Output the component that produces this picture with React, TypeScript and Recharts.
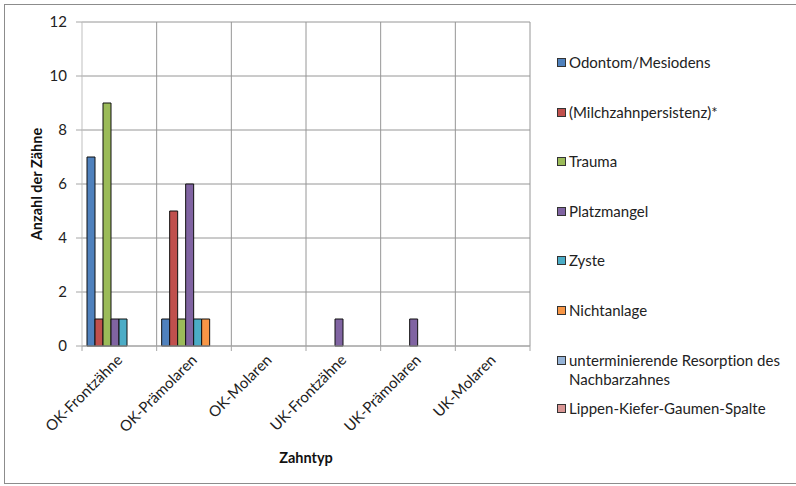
import React from 'react';
import { BarChart, Bar, XAxis, YAxis, CartesianGrid, Label } from 'recharts';

const categories = ['OK-Frontzähne', 'OK-Prämolaren', 'OK-Molaren', 'UK-Frontzähne', 'UK-Prämolaren', 'UK-Molaren'];
const odontom = [7, 1, 0, 0, 0, 0];
const milchzahn = [1, 5, 0, 0, 0, 0];
const trauma = [9, 1, 0, 0, 0, 0];
const platzmangel = [1, 6, 0, 1, 1, 0];
const zyste = [1, 1, 0, 0, 0, 0];
const nichtanlage = [0, 1, 0, 0, 0, 0];
const resorption = [0, 0, 0, 0, 0, 0];
const lkgSpalte = [0, 0, 0, 0, 0, 0];
const yTicks = [0, 2, 4, 6, 8, 10, 12];

const seriesNames = [
  'Odontom/Mesiodens',
  '(Milchzahnpersistenz)*',
  'Trauma',
  'Platzmangel',
  'Zyste',
  'Nichtanlage',
  'unterminierende Resorption des Nachbarzahnes',
  'Lippen-Kiefer-Gaumen-Spalte',
];
const seriesValues = [odontom, milchzahn, trauma, platzmangel, zyste, nichtanlage, resorption, lkgSpalte];
const seriesColors = ['#4F81BD', '#C0504D', '#9BBB59', '#8064A2', '#4BACC6', '#F79646', '#95B3D7', '#D99694'];
const legendTops = [53, 103, 152, 202, 251, 301, 351, 399];

const data = categories.map((c, i) => {
  const row: any = { name: c };
  seriesValues.forEach((vals, s) => {
    row['s' + s] = vals[i];
  });
  return row;
});

const FONT = 'Lato, "Open Sans", sans-serif';
const NOLIG: any = { fontVariantLigatures: 'none' };

const XTick = (props: any) => {
  const { x, y, payload, index, visibleTicksCount } = props;
  const off = payload.offset || 0;
  const left = x - off;
  const ax = x + 4;
  const ay = y + 15;
  return (
    <g>
      <line x1={left} y1={y} x2={left} y2={y + 5} stroke="#a6a6a6" />
      {index === visibleTicksCount - 1 && (
        <line x1={x + off} y1={y} x2={x + off} y2={y + 5} stroke="#a6a6a6" />
      )}
      <text
        x={ax}
        y={ay}
        textAnchor="end"
        fontSize={15}
        fontFamily={FONT}
        fill="#222"
        style={NOLIG}
        transform={`rotate(-45, ${ax}, ${ay})`}
      >
        {payload.value}
      </text>
    </g>
  );
};

export default function App() {
  return (
    <div style={{ position: 'absolute', left: 0, top: 0, width: 796, height: 486, background: '#fff', overflow: 'hidden', fontFamily: FONT, fontVariantLigatures: 'none' }}>
      <div style={{ position: 'absolute', left: 4, top: 4, width: 820, height: 480, border: '1px solid #8c8c8c', boxSizing: 'border-box' }} />
      <div style={{ position: 'absolute', left: 0, top: 0 }}>
        <BarChart
          width={796}
          height={486}
          data={data}
          margin={{ top: 22, right: 266, bottom: 0, left: 0 }}
          barCategoryGap={5}
          barGap={0}
        >
          <CartesianGrid
            stroke="#969696"
            verticalCoordinatesGenerator={({ offset }: any) =>
              categories.map((_, i) => offset.left + ((i + 1) * offset.width) / categories.length)
            }
          />
          <XAxis
            dataKey="name"
            interval={0}
            height={140}
            tickSize={0}
            tickMargin={0}
            tickLine={false}
            axisLine={{ stroke: '#a6a6a6' }}
            tick={<XTick />}
          >
            <Label
              content={({ viewBox }: any) => (
                <text
                  x={viewBox.x + viewBox.width / 2}
                  y={viewBox.y + 117}
                  textAnchor="middle"
                  fontSize={14.5}
                  fontWeight="bold"
                  fontFamily={FONT}
                  fill="#111"
                >
                  Zahntyp
                </text>
              )}
            />
          </XAxis>
          <YAxis
            width={82}
            domain={[0, 12]}
            ticks={yTicks}
            interval={0}
            tickSize={6}
            tickMargin={9}
            axisLine={{ stroke: '#bfbfbf' }}
            tickLine={{ stroke: '#a6a6a6' }}
            tick={{ fontSize: 15, fill: '#222', fontFamily: FONT }}
          >
            <Label
              content={({ viewBox }: any) => {
                const cx = 36;
                const cy = viewBox.y + viewBox.height / 2;
                return (
                  <text
                    x={cx}
                    y={cy}
                    textAnchor="middle"
                    dominantBaseline="central"
                    fontSize={14.5}
                    fontWeight="bold"
                    fontFamily={FONT}
                    fill="#111"
                    transform={`rotate(-90, ${cx}, ${cy})`}
                  >
                    Anzahl der Zähne
                  </text>
                );
              }}
            />
          </YAxis>
          {seriesNames.map((n, s) => (
            <Bar
              key={n}
              dataKey={'s' + s}
              name={n}
              fill={seriesColors[s]}
              stroke="#111"
              strokeWidth={1}
              isAnimationActive={false}
            />
          ))}
        </BarChart>
      </div>
      {seriesNames.map((n, s) => (
        <div
          key={n}
          style={{
            position: 'absolute',
            left: 557,
            top: legendTops[s],
            width: 236,
            display: 'flex',
            alignItems: 'flex-start',
            fontSize: 15,
            lineHeight: '19px',
            color: '#222',
          }}
        >
          <div
            style={{
              width: 9,
              height: 9,
              marginTop: 5,
              marginRight: 3,
              background: seriesColors[s],
              border: '1px solid #333',
              boxSizing: 'border-box',
              flexShrink: 0,
            }}
          />
          <div style={{ width: 224 }}>{n}</div>
        </div>
      ))}
    </div>
  );
}
